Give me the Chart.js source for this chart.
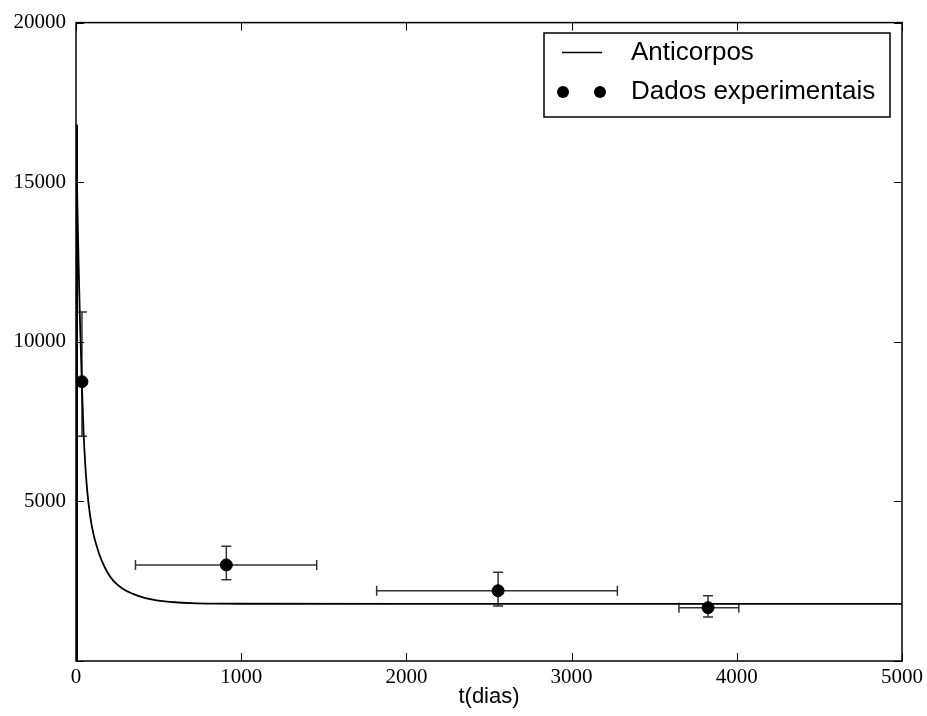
<!DOCTYPE html>
<html>
<head>
<meta charset="utf-8">
<script src="https://cdn.jsdelivr.net/npm/chart.js@4"></script>
<style>
  html, body { margin: 0; padding: 0; background: #fff; }
  #wrap { width: 927px; height: 716px; }
</style>
</head>
<body>
<div id="wrap"><canvas id="grafico"></canvas></div>
<script>
// curva do modelo
let curvaT = [0, 0.5, 8, 15, 25, 36, 45, 55, 68, 85, 105, 130, 155, 190, 224, 280, 345, 420, 488, 600, 700, 850, 1000, 2000, 3000, 4000, 5000];
let curvaA = [0, 16800, 14390, 12590, 10480, 8630, 7270, 6240, 5320, 4570, 3990, 3520, 3150, 2780, 2525, 2273, 2101, 1968, 1900, 1840, 1815, 1799, 1793, 1790, 1790, 1790, 1790];

// dados experimentais
let dadosT = [36, 910, 2555, 3826];
let dadosA = [8750, 3010, 2200, 1670];
let errTmin = [36, 360, 1820, 3650];
let errTmax = [36, 1457, 3277, 4012];
let errAmin = [7040, 2545, 1723, 1380];
let errAmax = [10935, 3592, 2782, 2047];

let xTicks = [0, 1000, 2000, 3000, 4000, 5000];
let yTicks = [0, 5000, 10000, 15000, 20000];

let legendas = ["Anticorpos", "Dados experimentais"];

// barras de erro
const errorBars = {
    id: "errorBars",
    beforeDatasetsDraw(chart) {
        let ctx = chart.ctx;
        let x = chart.scales.x, y = chart.scales.y;
        ctx.save();
        ctx.strokeStyle = "#333";
        ctx.lineWidth = 1.5;
        dadosT.forEach((t, i) => {
            let px = x.getPixelForValue(t), py = y.getPixelForValue(dadosA[i]);
            let x1 = x.getPixelForValue(errTmin[i]), x2 = x.getPixelForValue(errTmax[i]);
            let y1 = y.getPixelForValue(errAmin[i]), y2 = y.getPixelForValue(errAmax[i]);
            ctx.beginPath();
            ctx.moveTo(px, y1); ctx.lineTo(px, y2);
            ctx.moveTo(px - 5, y1); ctx.lineTo(px + 5, y1);
            ctx.moveTo(px - 5, y2); ctx.lineTo(px + 5, y2);
            if (errTmax[i] > errTmin[i]) {
                ctx.moveTo(x1, py); ctx.lineTo(x2, py);
                ctx.moveTo(x1, py - 5); ctx.lineTo(x1, py + 5);
                ctx.moveTo(x2, py - 5); ctx.lineTo(x2, py + 5);
            }
            ctx.stroke();
        });
        ctx.restore();
    }
};

// moldura, ticks internos e legenda
const moldura = {
    id: "moldura",
    afterDraw(chart) {
        let ctx = chart.ctx;
        let a = chart.chartArea;
        let x = chart.scales.x, y = chart.scales.y;
        ctx.save();
        ctx.strokeStyle = "#000";
        ctx.lineWidth = 1;
        ctx.beginPath();
        xTicks.forEach(v => {
            let px = Math.round(x.getPixelForValue(v)) + 0.5;
            ctx.moveTo(px, a.bottom); ctx.lineTo(px, a.bottom - 8);
            ctx.moveTo(px, a.top); ctx.lineTo(px, a.top + 8);
        });
        yTicks.forEach(v => {
            let py = Math.round(y.getPixelForValue(v)) + 0.5;
            ctx.moveTo(a.left, py); ctx.lineTo(a.left + 8, py);
            ctx.moveTo(a.right, py); ctx.lineTo(a.right - 8, py);
        });
        ctx.stroke();
        ctx.lineWidth = 1.5;
        ctx.strokeRect(a.left, a.top, a.right - a.left, a.bottom - a.top);

        // linha vertical inicial (t = 0)
        ctx.lineWidth = 2;
        ctx.beginPath();
        ctx.moveTo(a.left + 1, a.bottom);
        ctx.lineTo(a.left + 1, y.getPixelForValue(curvaA[1]));
        ctx.stroke();

        // legenda
        let lx = 544, ly = 33, lw = 346, lh = 84;
        ctx.fillStyle = "#fff";
        ctx.fillRect(lx, ly, lw, lh);
        ctx.lineWidth = 1.5;
        ctx.strokeRect(lx, ly, lw, lh);
        ctx.beginPath();
        ctx.moveTo(562, 52.5); ctx.lineTo(602, 52.5);
        ctx.stroke();
        ctx.fillStyle = "#000";
        [563, 600].forEach(cx => {
            ctx.beginPath();
            ctx.arc(cx, 92, 6, 0, Math.PI * 2);
            ctx.fill();
        });
        ctx.font = "26px 'Liberation Sans', Arial, sans-serif";
        ctx.textBaseline = "middle";
        ctx.textAlign = "left";
        ctx.fillText(legendas[0], 631, 53);
        ctx.fillText(legendas[1], 631, 92);
        ctx.restore();
    }
};

new Chart(document.getElementById("grafico"), {
    type: "scatter",
    data: {
        datasets: [
            {
                label: legendas[0],
                data: curvaT.map((t, i) => ({ x: t, y: curvaA[i] })),
                showLine: true,
                borderColor: "#000",
                borderWidth: 1.8,
                pointRadius: 0,
                cubicInterpolationMode: "monotone"
            },
            {
                label: legendas[1],
                data: dadosT.map((t, i) => ({ x: t, y: dadosA[i] })),
                showLine: false,
                backgroundColor: "#000",
                borderColor: "#000",
                pointRadius: 6
            }
        ]
    },
    options: {
        responsive: true,
        maintainAspectRatio: false,
        animation: false,
        layout: { padding: { left: 0, top: 19, right: 19, bottom: 0 } },
        plugins: { legend: { display: false }, tooltip: { enabled: false } },
        scales: {
            x: {
                type: "linear",
                min: 0, max: 5000,
                afterBuildTicks: s => { s.ticks = xTicks.map(v => ({ value: v })); },
                afterFit: s => { s.height = 55; },
                grid: { display: false, drawTicks: false },
                border: { display: false },
                ticks: {
                    color: "#000",
                    padding: 4,
                    maxRotation: 0,
                    callback: v => String(v),
                    font: { family: "'Liberation Serif', serif", size: 21 }
                },
                title: {
                    display: true,
                    text: "t(dias)",
                    color: "#000",
                    padding: { top: 0, bottom: 6 },
                    font: { family: "'Liberation Sans', Arial, sans-serif", size: 22 }
                }
            },
            y: {
                type: "linear",
                min: 0, max: 20000,
                afterBuildTicks: s => { s.ticks = yTicks.map(v => ({ value: v })); },
                afterFit: s => { s.width = 76; },
                grid: { display: false, drawTicks: false },
                border: { display: false },
                ticks: {
                    color: "#000",
                    padding: 10,
                    callback: v => v === 0 ? "" : String(v),
                    font: { family: "'Liberation Serif', serif", size: 21 }
                }
            }
        }
    },
    plugins: [errorBars, moldura]
});
</script>
</body>
</html>
